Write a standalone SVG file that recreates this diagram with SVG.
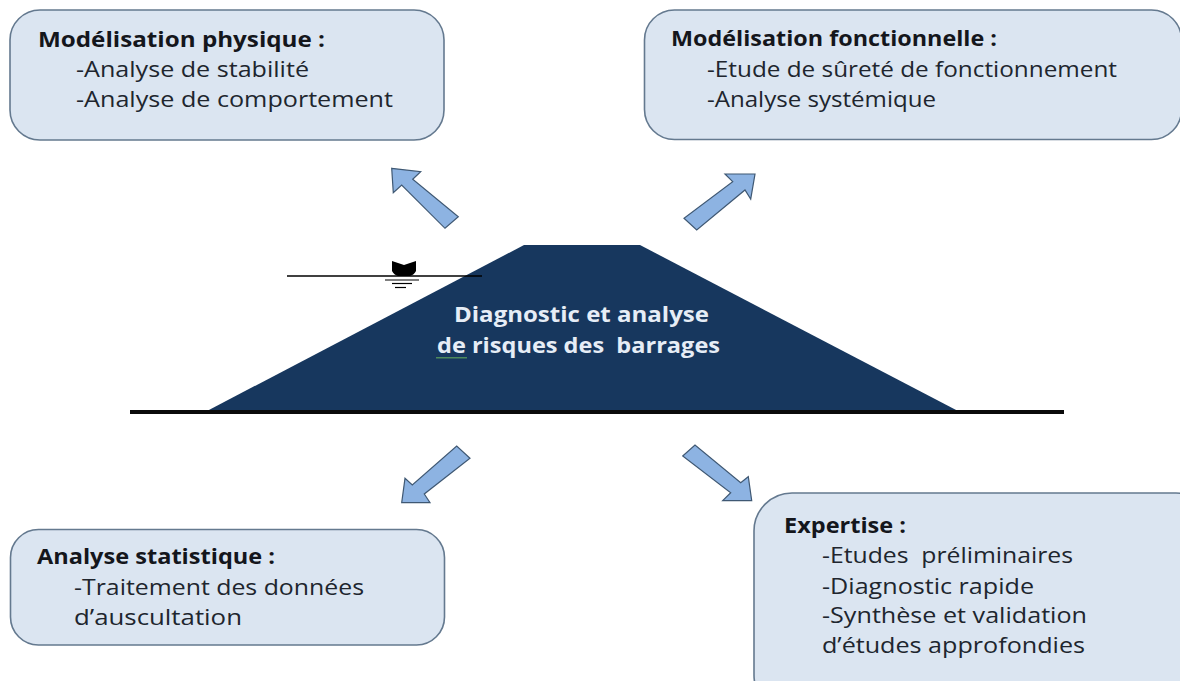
<svg xmlns="http://www.w3.org/2000/svg" width="1180" height="681" viewBox="0 0 1180 681">
<style>
.box{fill:#dbe5f1;stroke:#64798f;stroke-width:1.6}
.arrow{fill:#8db3e2;stroke:#3f5873;stroke-width:1.2;stroke-linejoin:miter}
text{font-family:"Open Sans","Noto Sans","Liberation Sans",sans-serif;font-size:21.5px;fill:#20252e}
.b{font-weight:700;fill:#14161c}
.w{font-weight:700;fill:#e6edf6}
</style>
<rect width="1180" height="681" fill="#fff"/>
<g id="dam">
<polygon points="207,411 524,245 640,245 958,411" fill="#17375e"/>
<rect x="130" y="410" width="934" height="4" fill="#0a0a0a"/>
<text class="w" x="454" y="322" textLength="255" lengthAdjust="spacingAndGlyphs">Diagnostic et analyse</text>
<text class="w" x="437" y="353" textLength="283" lengthAdjust="spacingAndGlyphs" xml:space="preserve">de risques des  barrages</text>
<rect x="436" y="357" width="31" height="1.5" fill="#4d8a5c"/>
</g>
<g id="water-level">
<line x1="287" y1="276" x2="482" y2="276" stroke="#000" stroke-width="1.3"/>
<path d="M392,261 L404,265 L416,261 L416,271 Q414,275 410,276 L398,276 Q394,275 392,271 Z" fill="#000"/>
<line x1="385" y1="280" x2="419" y2="280" stroke="#000" stroke-width="1.2"/>
<line x1="392" y1="283.5" x2="412" y2="283.5" stroke="#000" stroke-width="1.2"/>
<line x1="395" y1="287.5" x2="406" y2="287.5" stroke="#000" stroke-width="1.2"/>
</g>
<g id="connectors">
<polygon class="arrow" points="391.7,168.3 420.7,171.7 412.7,179.3 458.3,216.7 445,228.3 401.7,185 393.3,192.7"/>
<polygon class="arrow" points="755,174 725,174 732.7,181.7 684,218.3 696.7,230 745,190 750.7,199"/>
<polygon class="arrow" points="401.7,502.7 430,502.7 424.3,494 470,458.3 456.7,446 412.3,485 405,478.3"/>
<polygon class="arrow" points="751.7,500.7 722.7,500.7 730.7,492.7 682.7,456 695,445 740.7,482.7 748.3,476.7"/>
</g>
<g id="node-physique">
<rect class="box" x="10" y="10" width="434" height="130" rx="30"/>
<text class="b" x="38" y="46.5" textLength="287" lengthAdjust="spacingAndGlyphs">Modélisation physique :</text>
<text x="76" y="77" textLength="233" lengthAdjust="spacingAndGlyphs">-Analyse de stabilité</text>
<text x="76" y="107" textLength="317" lengthAdjust="spacingAndGlyphs">-Analyse de comportement</text>
</g>
<g id="node-fonctionnelle">
<rect class="box" x="644.5" y="10" width="537" height="129.5" rx="30"/>
<text class="b" x="671" y="46" textLength="326" lengthAdjust="spacingAndGlyphs">Modélisation fonctionnelle :</text>
<text x="707" y="77" textLength="410" lengthAdjust="spacingAndGlyphs">-Etude de sûreté de fonctionnement</text>
<text x="707" y="107" textLength="229" lengthAdjust="spacingAndGlyphs">-Analyse systémique</text>
</g>
<g id="node-statistique">
<rect class="box" x="10.5" y="529.5" width="434" height="115.5" rx="28"/>
<text class="b" x="37" y="564" textLength="238" lengthAdjust="spacingAndGlyphs">Analyse statistique :</text>
<text x="74" y="595" textLength="290" lengthAdjust="spacingAndGlyphs">-Traitement des données</text>
<text x="74" y="625" textLength="168" lengthAdjust="spacingAndGlyphs">d’auscultation</text>
</g>
<g id="node-expertise">
<rect class="box" x="754" y="493" width="460" height="220" rx="38"/>
<text class="b" x="784" y="533" textLength="122" lengthAdjust="spacingAndGlyphs">Expertise :</text>
<text x="822" y="563" textLength="251" lengthAdjust="spacingAndGlyphs" xml:space="preserve">-Etudes  préliminaires</text>
<text x="822" y="594" textLength="212" lengthAdjust="spacingAndGlyphs">-Diagnostic rapide</text>
<text x="822" y="623" textLength="265" lengthAdjust="spacingAndGlyphs">-Synthèse et validation</text>
<text x="822" y="653" textLength="263" lengthAdjust="spacingAndGlyphs">d’études approfondies</text>
</g>
</svg>
